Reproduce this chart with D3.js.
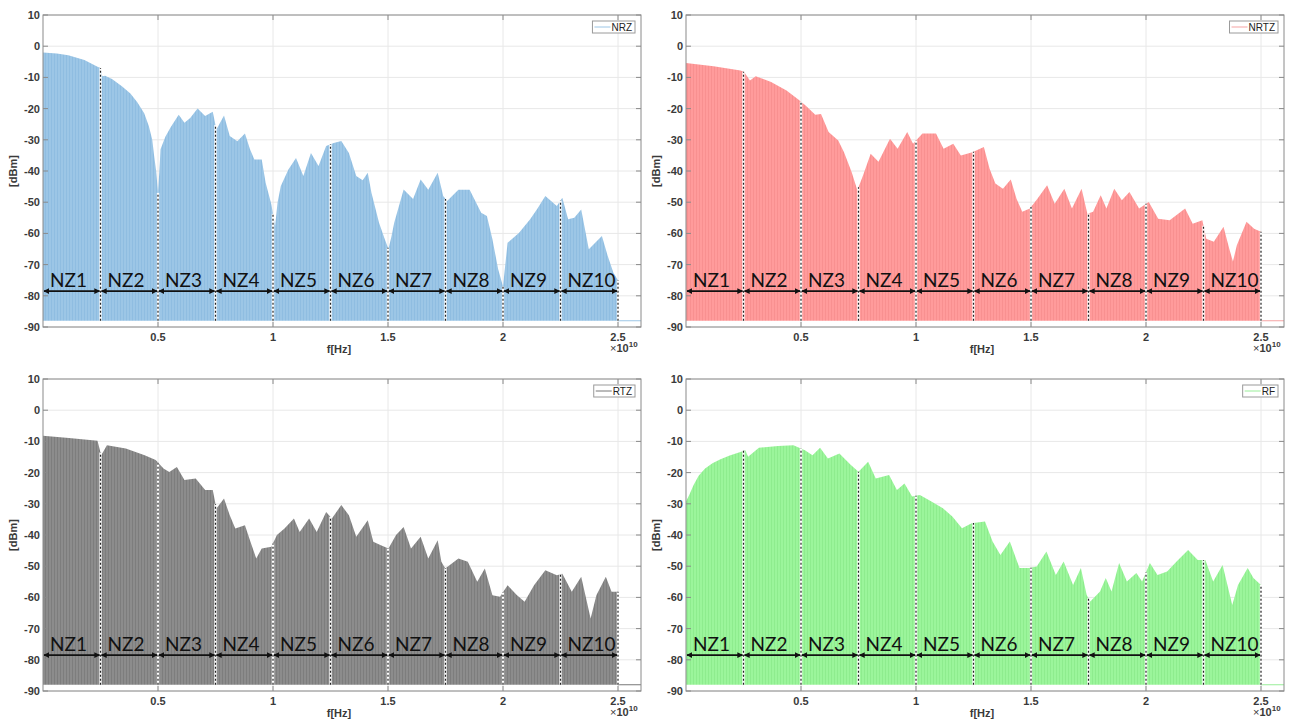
<!DOCTYPE html>
<html>
<head>
<meta charset="utf-8">
<script src="https://cdn.jsdelivr.net/npm/d3@7"></script>
<style>
  body { margin: 0; background: #fff; }
  svg { display: block; }
</style>
</head>
<body>
<div id="chart"></div>
<script>
// tick labels and zone names
const freqTicks = [0.5, 1, 1.5, 2, 2.5];            // x 1e10 Hz
const dbTicks = [-90, -80, -70, -60, -50, -40, -30, -20, -10, 0, 10];
const zoneNames = ["NZ1", "NZ2", "NZ3", "NZ4", "NZ5", "NZ6", "NZ7", "NZ8", "NZ9", "NZ10"];
const zoneEdges = [0, 0.25, 0.5, 0.75, 1, 1.25, 1.5, 1.75, 2, 2.25, 2.5];

// spectrum envelopes: [f (x1e10 Hz), dBm]
const nrz = [
  [0, -2], [0.06, -2.3], [0.11, -2.9], [0.18, -4.4], [0.237, -6.6], [0.25, -7], [0.258, -9.6],
  [0.27, -9.5], [0.3, -10.5], [0.343, -12.8], [0.38, -15.2], [0.41, -18], [0.44, -21.5],
  [0.46, -25.6], [0.475, -30], [0.483, -35], [0.492, -40], [0.5, -47], [0.506, -40], [0.511, -33],
  [0.532, -29], [0.555, -26], [0.59, -22], [0.615, -24.5], [0.64, -23], [0.672, -20],
  [0.705, -22.4], [0.738, -21], [0.754, -26.7], [0.787, -22.2], [0.812, -28.8], [0.845, -30.5],
  [0.878, -28], [0.9, -33], [0.919, -36.3], [0.951, -36.3], [0.968, -43.8], [0.993, -50.7],
  [1.009, -57.6], [1.02, -50], [1.034, -44.8], [1.067, -39.5], [1.1, -35.8], [1.132, -41.6],
  [1.165, -34.2], [1.198, -38.4], [1.231, -32], [1.264, -31], [1.297, -30.4], [1.33, -34.2],
  [1.362, -41.6], [1.39, -43], [1.412, -40.6], [1.428, -47], [1.461, -56.6], [1.486, -61.9],
  [1.502, -65], [1.515, -61], [1.527, -56.6], [1.568, -45.9], [1.609, -49], [1.642, -42.7],
  [1.675, -46], [1.716, -40.6], [1.74, -48], [1.757, -49.6], [1.806, -46], [1.855, -46],
  [1.905, -53.4], [1.93, -54.4], [1.954, -61.9], [1.979, -71.5], [2.0, -77], [2.01, -70],
  [2.02, -63], [2.07, -59.8], [2.118, -55.5], [2.15, -52], [2.184, -48], [2.234, -51.2],
  [2.258, -48.6], [2.283, -55.5], [2.31, -55], [2.34, -52.3], [2.373, -65.1], [2.43, -60.8],
  [2.455, -67.2], [2.48, -72.6], [2.5, -75]
];
const nrtz = [
  [0, -5.4], [0.12, -6.4], [0.237, -7.8], [0.253, -8.3], [0.278, -11], [0.303, -9.6], [0.37, -11.5],
  [0.437, -14.2], [0.487, -17], [0.52, -19], [0.562, -22], [0.587, -21.7], [0.62, -27.5],
  [0.662, -30.2], [0.687, -34], [0.72, -40.3], [0.745, -46.2], [0.77, -41.4], [0.803, -34.5],
  [0.837, -37], [0.887, -29.7], [0.92, -32.9], [0.962, -27.5], [0.987, -31.3], [1.028, -28],
  [1.087, -28], [1.12, -32.9], [1.162, -31.3], [1.195, -35], [1.245, -34], [1.295, -32.3],
  [1.32, -39.3], [1.345, -44], [1.378, -45.7], [1.412, -42.7], [1.437, -48.9], [1.462, -53.1],
  [1.495, -52], [1.528, -48.9], [1.57, -44.6], [1.603, -50.5], [1.645, -45.7], [1.678, -52],
  [1.72, -45.7], [1.745, -53.7], [1.77, -53.1], [1.803, -47.8], [1.828, -52], [1.862, -45.7],
  [1.895, -49.4], [1.928, -46.7], [1.97, -52], [2.012, -49.9], [2.053, -55.3], [2.103, -55.8],
  [2.17, -52], [2.203, -56.9], [2.245, -55.8], [2.262, -61.7], [2.295, -62.7], [2.337, -57.9],
  [2.362, -64.9], [2.378, -69], [2.395, -63.8], [2.437, -56.3], [2.47, -58.5], [2.5, -59.5]
];
const rtz = [
  [0, -8.2], [0.113, -8.9], [0.237, -9.8], [0.253, -14.4], [0.278, -11.2], [0.36, -12.3],
  [0.442, -14.4], [0.49, -16], [0.524, -18.7], [0.549, -19.8], [0.582, -18.2], [0.615, -22.4],
  [0.664, -21.9], [0.705, -25.6], [0.738, -25.6], [0.754, -31.5], [0.787, -28.3], [0.812, -33.7],
  [0.836, -37.9], [0.878, -36.9], [0.902, -42.2], [0.927, -47.5], [0.951, -44.3], [0.993, -43.8],
  [1.017, -40], [1.05, -37.9], [1.091, -34.7], [1.116, -39], [1.157, -34.7], [1.19, -39],
  [1.231, -32.6], [1.256, -34.7], [1.297, -30.4], [1.33, -33.7], [1.362, -40.6], [1.412, -35.3],
  [1.436, -42.2], [1.469, -43.3], [1.502, -44.3], [1.535, -40], [1.568, -37.4], [1.6, -44.3],
  [1.642, -40.6], [1.675, -47.5], [1.716, -41.7], [1.732, -48.6], [1.749, -50.7], [1.806, -47.5],
  [1.847, -48.6], [1.888, -55], [1.921, -50.7], [1.954, -59.3], [1.987, -59.8], [2.02, -56.1],
  [2.061, -59.3], [2.094, -61.4], [2.135, -56.1], [2.184, -51.3], [2.234, -52.9], [2.258, -52.4],
  [2.299, -58.2], [2.34, -53.4], [2.381, -66.8], [2.406, -59.3], [2.447, -53.4], [2.472, -58.2],
  [2.5, -58.2]
];
const rf = [
  [0, -29.3], [0.015, -27], [0.033, -24], [0.055, -21], [0.083, -18.7], [0.115, -17],
  [0.15, -15.7], [0.19, -14.5], [0.233, -13.5], [0.258, -12.8],
  [0.27, -14.9], [0.317, -12], [0.4, -11.5], [0.467, -11.2], [0.517, -12.8], [0.55, -14.4],
  [0.583, -12], [0.617, -15.5], [0.667, -13.9], [0.717, -17.6], [0.75, -19.7], [0.792, -16.5],
  [0.825, -21.9], [0.883, -20.8], [0.917, -25.6], [0.95, -23.5], [0.983, -27.7], [1.017, -27.2],
  [1.067, -29.3], [1.117, -31.4], [1.158, -34.1], [1.2, -37.8], [1.242, -36.2], [1.3, -35.7],
  [1.333, -42.1], [1.367, -46.4], [1.408, -42.1], [1.45, -50.6], [1.492, -50.6], [1.525, -50.1],
  [1.567, -45.3], [1.608, -52.8], [1.642, -48.5], [1.683, -56], [1.717, -50.6], [1.742, -59.2],
  [1.758, -61.3], [1.8, -58.1], [1.825, -53.8], [1.85, -58.1], [1.883, -49], [1.917, -54.9],
  [1.958, -52.2], [1.983, -54.9], [2.017, -49], [2.05, -52.8], [2.092, -51.7], [2.133, -48.5],
  [2.183, -44.8], [2.225, -48], [2.258, -48], [2.292, -54.9], [2.333, -49.6], [2.375, -62.4],
  [2.4, -56], [2.442, -50.6], [2.467, -53.8], [2.5, -56]
];

const floorDb = -88;
const arrowDb = -78.5;

const panels = [
  { name: "NRZ",  data: nrz,  left: 43,  top: 15,  fill: "#9cc6e6", stripe: "#8fbde1", legend: "#9cc6e6" },
  { name: "NRTZ", data: nrtz, left: 686, top: 15,  fill: "#ff9b9b", stripe: "#f89090", legend: "#f5a3a3" },
  { name: "RTZ",  data: rtz,  left: 43,  top: 379, fill: "#8c8c8c", stripe: "#7d7d7d", legend: "#777777" },
  { name: "RF",   data: rf,   left: 686, top: 379, fill: "#9bf59b", stripe: "#8eec8e", legend: "#99ee99" }
];
const plotW = 598, plotH = 312;

const svg = d3.select("#chart").append("svg")
  .attr("width", 1293).attr("height", 721)
  .style("font-family", "'Liberation Sans', Arial, sans-serif");

const defs = svg.append("defs");
defs.append("marker")
  .attr("id", "arrowHead")
  .attr("viewBox", "0 0 10 10")
  .attr("refX", 9).attr("refY", 5)
  .attr("markerWidth", 3.2).attr("markerHeight", 3.2)
  .attr("orient", "auto-start-reverse")
  .append("path").attr("d", "M0,0 L10,5 L0,10 z").attr("fill", "#111");

function valueAt(data, f) {
  for (let i = 1; i < data.length; i++) {
    if (f <= data[i][0]) {
      const a = data[i - 1], b = data[i];
      const t = (f - a[0]) / (b[0] - a[0]);
      return a[1] + t * (b[1] - a[1]);
    }
  }
  return data[data.length - 1][1];
}

panels.forEach(p => {
  const x = d3.scaleLinear().domain([0, 2.6]).range([p.left, p.left + plotW]);
  const y = d3.scaleLinear().domain([-90, 10]).range([p.top + plotH, p.top]);
  const g = svg.append("g");

  defs.append("pattern")
    .attr("id", "stripe-" + p.name)
    .attr("patternUnits", "userSpaceOnUse")
    .attr("width", 3).attr("height", 10)
    .call(pt => {
      pt.append("rect").attr("width", 3).attr("height", 10).attr("fill", p.fill);
      pt.append("rect").attr("width", 1).attr("height", 10).attr("fill", p.stripe);
    });

  // grid
  g.append("g").selectAll("line").data(dbTicks).join("line")
    .attr("x1", x.range()[0]).attr("x2", x.range()[1])
    .attr("y1", d => y(d)).attr("y2", d => y(d))
    .attr("stroke", "#e8e8e8").attr("stroke-width", 1);
  g.append("g").selectAll("line").data(freqTicks).join("line")
    .attr("x1", d => x(d)).attr("x2", d => x(d))
    .attr("y1", y.range()[0]).attr("y2", y.range()[1])
    .attr("stroke", "#e8e8e8").attr("stroke-width", 1);

  // spectrum
  const area = d3.area()
    .x(d => x(d[0]))
    .y0(y(floorDb))
    .y1(d => y(d[1]));
  g.append("path").datum(p.data)
    .attr("d", area)
    .attr("fill", "url(#stripe-" + p.name + ")");

  // flat floor after the last zone
  g.append("line")
    .attr("x1", x(2.5)).attr("x2", x.range()[1])
    .attr("y1", y(floorDb)).attr("y2", y(floorDb))
    .attr("stroke", p.legend).attr("stroke-width", 1);

  // zone separators
  const seps = zoneEdges.slice(1);
  g.append("g").selectAll("line").data(seps).join("line")
    .attr("x1", d => x(d)).attr("x2", d => x(d))
    .attr("y1", y(floorDb)).attr("y2", d => y(valueAt(p.data, d)))
    .attr("stroke", "#fff").attr("stroke-width", 2.4);
  g.append("g").selectAll("line").data(seps).join("line")
    .attr("x1", d => x(d)).attr("x2", d => x(d))
    .attr("y1", y(floorDb)).attr("y2", d => y(valueAt(p.data, d)))
    .attr("stroke", "#222").attr("stroke-width", 1.2)
    .attr("stroke-dasharray", "2,2");

  // zone arrows and names
  const zones = zoneNames.map((n, i) => ({ name: n, a: zoneEdges[i], b: zoneEdges[i + 1] }));
  g.append("g").selectAll("line").data(zones).join("line")
    .attr("x1", d => x(d.a) + 1).attr("x2", d => x(d.b) - 1)
    .attr("y1", y(arrowDb)).attr("y2", y(arrowDb))
    .attr("stroke", "#111").attr("stroke-width", 1.8)
    .attr("marker-start", "url(#arrowHead)")
    .attr("marker-end", "url(#arrowHead)");
  g.append("g").selectAll("text").data(zones).join("text")
    .attr("x", d => x(d.a) + 7)
    .attr("y", y(arrowDb) - 4)
    .attr("font-family", "Lato, 'Open Sans', sans-serif")
    .attr("font-size", 19)
    .attr("fill", "#111")
    .text(d => d.name);

  // axes box
  g.append("rect")
    .attr("x", x.range()[0]).attr("y", y.range()[1])
    .attr("width", plotW).attr("height", plotH)
    .attr("fill", "none").attr("stroke", "#8a8a8a").attr("stroke-width", 1);

  // inward ticks
  const tk = 5;
  dbTicks.forEach(d => {
    g.append("line").attr("x1", x.range()[0]).attr("x2", x.range()[0] + tk)
      .attr("y1", y(d)).attr("y2", y(d)).attr("stroke", "#8a8a8a");
    g.append("line").attr("x1", x.range()[1]).attr("x2", x.range()[1] - tk)
      .attr("y1", y(d)).attr("y2", y(d)).attr("stroke", "#8a8a8a");
  });
  freqTicks.forEach(d => {
    g.append("line").attr("x1", x(d)).attr("x2", x(d))
      .attr("y1", y.range()[0]).attr("y2", y.range()[0] - tk).attr("stroke", "#8a8a8a");
    g.append("line").attr("x1", x(d)).attr("x2", x(d))
      .attr("y1", y.range()[1]).attr("y2", y.range()[1] + tk).attr("stroke", "#8a8a8a");
  });

  // tick labels
  g.append("g").selectAll("text").data(dbTicks).join("text")
    .attr("x", x.range()[0] - 3)
    .attr("y", d => y(d) + 4)
    .attr("text-anchor", "end")
    .attr("font-size", 11).attr("font-weight", "bold").attr("fill", "#3a3a3a")
    .text(d => d);
  g.append("g").selectAll("text").data(freqTicks).join("text")
    .attr("x", d => x(d))
    .attr("y", y.range()[0] + 14)
    .attr("text-anchor", "middle")
    .attr("font-size", 11).attr("font-weight", "bold").attr("fill", "#3a3a3a")
    .text(d => d);

  // axis titles
  g.append("text")
    .attr("x", (x.range()[0] + x.range()[1]) / 2 - 3)
    .attr("y", y.range()[0] + 26)
    .attr("text-anchor", "middle")
    .attr("font-size", 11).attr("font-weight", "bold").attr("fill", "#3a3a3a")
    .text("f[Hz]");
  g.append("text")
    .attr("transform", `translate(${x.range()[0] - 26},${(y.range()[0] + y.range()[1]) / 2}) rotate(-90)`)
    .attr("text-anchor", "middle")
    .attr("font-size", 11).attr("font-weight", "bold").attr("fill", "#3a3a3a")
    .text("[dBm]");
  const expo = g.append("text")
    .attr("x", x(2.5) - 8)
    .attr("y", y.range()[0] + 25)
    .attr("font-size", 11).attr("font-weight", "bold").attr("fill", "#3a3a3a");
  expo.append("tspan").attr("font-weight", "normal").text("\u00d7");
  expo.append("tspan").text("10");
  expo.append("tspan").attr("font-size", 8).attr("dy", -5).text("10");

  // legend
  const lg = g.append("g");
  const label = lg.append("text")
    .attr("font-size", 10).attr("fill", "#222")
    .text(p.name);
  const tw = label.node().getComputedTextLength();
  const boxW = tw + 22, boxH = 12;
  const bx = x.range()[1] - 6 - boxW, by = y.range()[1] + 6;
  lg.insert("rect", "text")
    .attr("x", bx).attr("y", by).attr("width", boxW).attr("height", boxH)
    .attr("fill", "#fff").attr("stroke", "#9a9a9a").attr("stroke-width", 1);
  lg.append("line")
    .attr("x1", bx + 2).attr("x2", bx + 18)
    .attr("y1", by + boxH / 2).attr("y2", by + boxH / 2)
    .attr("stroke", p.legend).attr("stroke-width", 1);
  label.attr("x", bx + 19).attr("y", by + 10);
});
</script>
</body>
</html>
